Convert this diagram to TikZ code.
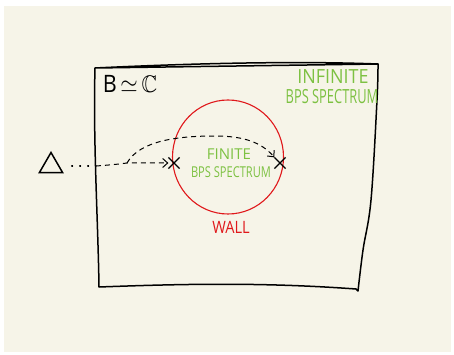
\documentclass[tikz,border=0pt]{standalone}
\usepackage{fontspec}
\usepackage{amssymb}
\usepackage{graphicx}
\setsansfont{Open Sans}
\usetikzlibrary{shapes.geometric,shapes.misc,arrows.meta}
\definecolor{paper}{HTML}{F6F4E8}
\definecolor{lime}{HTML}{7DC142}
\definecolor{wallred}{HTML}{E0181B}
\tikzset{
  ink/.style={line width=1.5pt, line cap=round, line join=round},
  flow/.style={line width=1pt, dash pattern=on 5pt off 4pt, -{Straight Barb[length=5pt,width=9pt,line width=1pt]}},
  crossmark/.style={cross out, draw, line width=1.2pt, minimum size=10pt, inner sep=0pt},
  label/.style={inner sep=0pt, align=center},
}
\newcommand{\outertext}[2]{\scalebox{#1}[1]{\sffamily\fontsize{19.5}{20}\selectfont #2}}
\newcommand{\innertext}[2]{\scalebox{#1}[1]{\sffamily\fontsize{15}{16}\selectfont #2}}
\begin{document}
\begin{tikzpicture}[x=1pt,y=-1pt]
\useasboundingbox (0,0) rectangle (454,355);
\fill[white] (0,0) rectangle (454,355);
\fill[paper] (4,6) rectangle (451,352);
% plane box
\draw[ink] (95,68) .. controls (200,63) and (300,61) .. (378,64)
  plot[smooth, tension=0.6] coordinates {(378,64) (377,100) (371,200) (363,250) (358,291)}
  -- (356,289) .. controls (260,282) and (180,284) .. (99,287)
  .. controls (98,220) and (93,140) .. (95,68) -- cycle;
\coordinate (edge) at (96,166);
% wall
\node[ellipse, draw=wallred, line width=1.1pt, minimum width=111pt, minimum height=114pt, inner sep=0pt] (wall) at (228,157) {};
\node[label, text=wallred] (walllabel) at (231,227) {\scalebox{0.86}[1]{\sffamily\fontsize{17}{18}\selectfont WALL}};
% labels
\node[label] (base) at (130,84) {\scalebox{0.9}[1]{\sffamily\fontsize{24}{24}\selectfont B\,$\simeq$\,$\mathbb{C}$}};
\node[label, text=lime] (inf1) at (333,77) {\outertext{0.92}{INFINITE}};
\node[label, text=lime] (inf2) at (332,97) {\outertext{0.66}{BPS SPECTRUM}};
\node[label, text=lime] (fin1) at (229,154) {\innertext{1.0}{FINITE}};
\node[label, text=lime] (fin2) at (231,172) {\innertext{0.74}{BPS SPECTRUM}};
% triangle
\node[regular polygon, regular polygon sides=3, draw, line width=1.5pt, minimum size=27pt, inner sep=0pt] (tri) at (51,166) {};
% crosses
\node[crossmark] (x1) at (174,163) {};
\node[crossmark] (x2) at (280,163) {};
% connectors
\draw[line width=1.1pt, dash pattern=on 1pt off 7pt, line cap=round] (tri.east) ++(12,0) -- (edge);
\draw[flow] (edge) .. controls (110,165) and (120,164) .. (127,163) -- (x1.west);
\draw[flow] (127,163) .. controls (140,140) and (180,136) .. (215,136) .. controls (245,136) and (262,143) .. (x2.north west);
\end{tikzpicture}
\end{document}
